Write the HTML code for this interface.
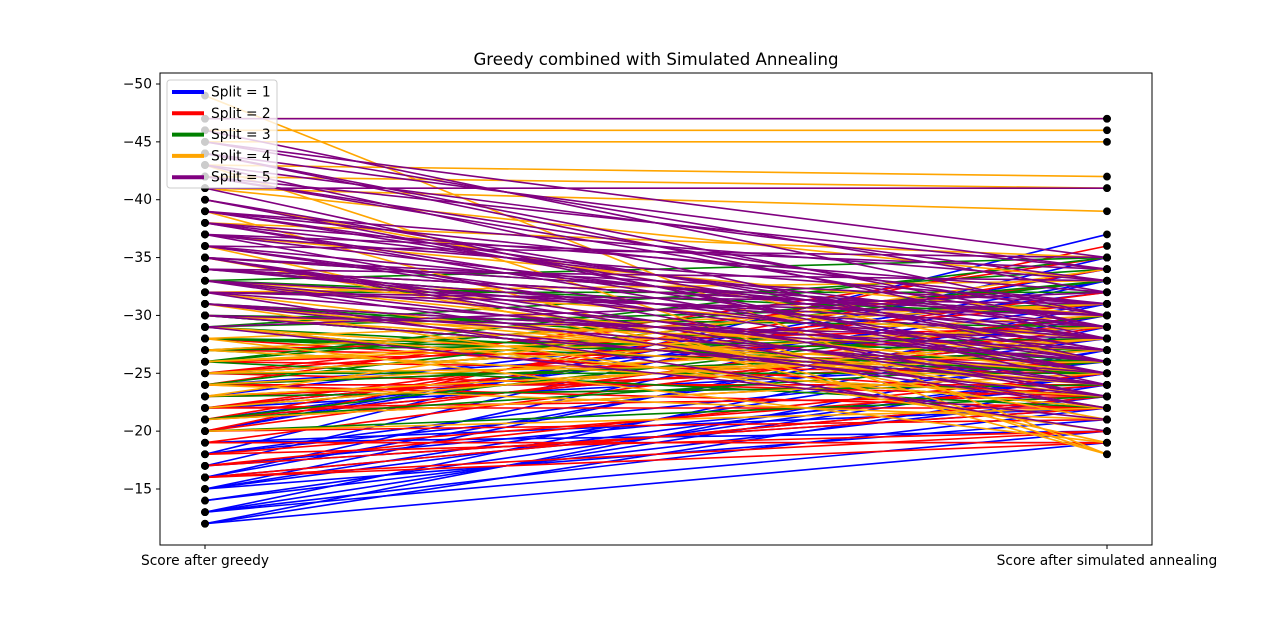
<!DOCTYPE html>
<html><head><meta charset="utf-8"><style>
body{margin:0;background:#fff;}
svg text{font-family:"DejaVu Sans","Liberation Sans",sans-serif;}
</style></head><body>
<svg id="chart" width="1280" height="612" xmlns="http://www.w3.org/2000/svg">
<rect width="1280" height="612" fill="#fff"/>
<text x="656" y="65" font-size="16.6" text-anchor="middle">Greedy combined with Simulated Annealing</text>
<g id="lines"></g>
<g id="marks"></g>
<rect x="160" y="73" width="992" height="472" fill="none" stroke="#000" stroke-width="1"/>
<g id="axes"></g>
<g id="legend"></g>
</svg>
<script>
const splitNames = ["Split = 1","Split = 2","Split = 3","Split = 4","Split = 5"];
const splitColors = ["blue","red","green","orange","purple"];
const yTicks = [-50,-45,-40,-35,-30,-25,-20,-15];
const xCategories = ["Score after greedy","Score after simulated annealing"];
const greedy1 = [-12,-12,-13,-13,-14,-15,-15,-16,-16,-17,-18,-18,-19,-20,-21,-22,-23,-24,-25,-15,-13,-17,-19,-22,-20,-12,-14,-16,-18,-15,-17,-13,-21,-23,-19,-24];
const anneal1 = [-19,-24,-22,-29,-25,-27,-31,-23,-33,-35,-26,-37,-20,-34,-28,-30,-32,-24,-29,-21,-25,-22,-19,-26,-33,-27,-23,-30,-28,-25,-24,-20,-31,-26,-22,-29];
const greedy2 = [-16,-16,-17,-18,-19,-20,-21,-22,-22,-23,-24,-25,-25,-26,-27,-28,-24,-20,-23,-21,-17,-19,-18,-22,-24,-25,-26,-23,-21,-20,-27,-16,-24,-22];
const anneal2 = [-19,-23,-25,-20,-29,-36,-34,-22,-30,-27,-24,-31,-33,-25,-29,-23,-35,-21,-26,-28,-22,-19,-24,-32,-22,-23,-28,-24,-25,-30,-26,-20,-27,-23];
const greedy3 = [-20,-21,-22,-23,-24,-25,-26,-27,-28,-29,-29,-30,-31,-32,-33,-34,-35,-27,-26,-30,-28,-24,-29,-28,-27,-26,-25,-30,-31,-33,-29,-21];
const anneal3 = [-23,-30,-28,-24,-33,-25,-35,-31,-27,-34,-22,-29,-26,-32,-35,-28,-30,-23,-33,-24,-25,-27,-31,-26,-28,-22,-29,-24,-27,-30,-25,-26];
const greedy4 = [-49,-47,-46,-45,-43,-42,-41,-39,-38,-36,-35,-34,-33,-32,-31,-30,-29,-28,-27,-26,-25,-24,-23,-22,-21,-20,-43,-40,-41,-37,-33,-31,-29,-27,-25,-23,-28,-30,-32,-26,-24,-35];
const anneal4 = [-18,-47,-46,-45,-42,-41,-39,-18,-35,-19,-22,-30,-25,-33,-20,-27,-24,-31,-23,-29,-26,-21,-34,-28,-25,-22,-18,-26,-33,-30,-28,-24,-22,-31,-29,-27,-19,-25,-23,-30,-28,-21];
const greedy5 = [-47,-46,-45,-44,-43,-42,-41,-40,-39,-39,-38,-37,-36,-36,-35,-35,-34,-34,-33,-33,-32,-32,-31,-30,-29,-29,-37,-38,-35,-34,-45,-44,-43,-42,-41,-39,-38,-37,-36,-35,-34,-33,-32,-31,-30,-39,-36,-33,-40,-38,-35,-32,-37,-34,-31,-42,-44];
const anneal5 = [-47,-30,-35,-29,-33,-34,-41,-25,-28,-31,-32,-23,-26,-35,-22,-30,-27,-33,-24,-29,-20,-31,-25,-28,-21,-32,-34,-26,-24,-30,-32,-28,-26,-30,-24,-27,-29,-31,-25,-23,-28,-26,-30,-27,-24,-33,-29,-22,-27,-25,-31,-26,-28,-30,-23,-29,-34];
const greedyAll = [greedy1,greedy2,greedy3,greedy4,greedy5];
const annealAll = [anneal1,anneal2,anneal3,anneal4,anneal5];

const NS="http://www.w3.org/2000/svg";
const vTop=-50, yTopPx=84, pxPerUnit=(489-84)/35;
function yScale(v){return yTopPx+(v-vTop)*pxPerUnit;}
const xPos=[205,1107];
function xScale(i){return xPos[i];}
function mk(tag,attrs,parent){const e=document.createElementNS(NS,tag);for(const k in attrs)e.setAttribute(k,attrs[k]);parent.appendChild(e);return e;}
const gl=document.getElementById('lines'), gm=document.getElementById('marks'), ga=document.getElementById('axes'), lg=document.getElementById('legend');
for(let s=0;s<5;s++){
  const g=greedyAll[s], a=annealAll[s];
  for(let i=0;i<g.length;i++){
    const l=mk('line',{x1:xScale(0),y1:yScale(g[i]),x2:xScale(1),y2:yScale(a[i]),stroke:splitColors[s],'stroke-width':1.6},gl);
    
    
  }
}
for(let s=0;s<5;s++){
  const g=greedyAll[s], a=annealAll[s];
  for(let i=0;i<g.length;i++){
    const c1=mk('circle',{cx:xScale(0),cy:yScale(g[i]),r:3.5,fill:'#000',stroke:'#000','stroke-width':0.8},gm);
    
    
    const c2=mk('circle',{cx:xScale(1),cy:yScale(a[i]),r:3.5,fill:'#000',stroke:'#000','stroke-width':0.8},gm);
    
    
  }
}
yTicks.forEach(t=>{
  const y=yScale(t);
  const tk=mk('line',{x1:156,y1:y,x2:160,y2:y,stroke:'#000'},ga);
  
  
  const tx=mk('text',{x:152,y:y+4.5,'font-size':13.8,'text-anchor':'end'},ga);
  tx.textContent='\u2212'+Math.abs(t);
  
  
});
xCategories.forEach((c,i)=>{
  const x=xScale(i);
  const tk=mk('line',{x1:x,y1:545,x2:x,y2:549,stroke:'#000'},ga);
  
  
  const tx=mk('text',{x:x,y:565,'font-size':13.8,'text-anchor':'middle'},ga);
  tx.textContent=c;
  
  
});
const box=mk('rect',{x:167,y:80,width:110,height:108,rx:3,fill:'#fff','fill-opacity':0.8,stroke:'#ccc'},lg);


splitNames.forEach((n,i)=>{
  const y=92+i*21.3;
  const l=mk('line',{x1:172,y1:y,x2:204,y2:y,stroke:splitColors[i],'stroke-width':4},lg);
  
  
  const t=mk('text',{x:211,y:y+4.5,'font-size':13.8},lg);
  t.textContent=n;
  
  
});
</script>
</body></html>
